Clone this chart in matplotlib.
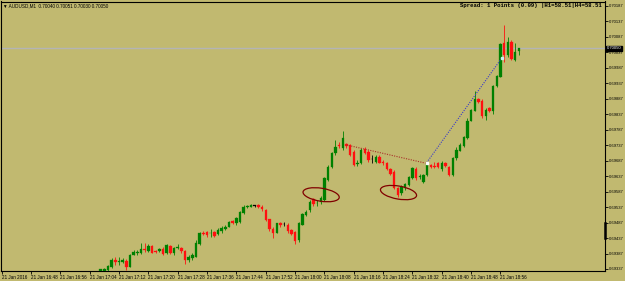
import numpy as np
import matplotlib.pyplot as plt
import matplotlib.transforms as mtransforms
from matplotlib.patches import Ellipse

# AUDUSD M1, 21 Jan 2016 -- bar index = minutes after 16:40, prices in points (1e-5)
first_bar = 27
opens = [69330, 69330, 69334, 69342, 69366, 69361, 69360, 69364, 69344, 69383,
         69390, 69388, 69401, 69394, 69411, 69394, 69394, 69403, 69388, 69411,
         69388, 69405, 69405, 69394, 69366, 69371, 69377, 69418, 69453, 69456,
         69452, 69457, 69450, 69459, 69467, 69474, 69491, 69485, 69490, 69517,
         69537, 69538, 69541, 69544, 69538, 69528, 69498, 69465, 69454, 69485,
         69482, 69479, 69463, 69457, 69431, 69480, 69512, 69528, 69562, 69549,
         69554, 69560, 69625, 69668, 69711, 69738, 69728, 69741, 69738, 69716,
         69676, 69679, 69724, 69716, 69692, 69684, 69700, 69683, 69679, 69659,
         69651, 69598, 69582, 69598, 69608, 69630, 69660, 69634, 69619, 69641,
         69673, 69670, 69679, 69659, 69679, 69668, 69641, 69695, 69719, 69734,
         69759, 69816, 69849, 69886, 69881, 69832, 69856, 69849, 69928, 69958,
         70068, 70029, 70072, 70012, 70040]
highs = [69338, 69341, 69351, 69371, 69377, 69377, 69371, 69368, 69385, 69398,
         69398, 69422, 69420, 69418, 69415, 69398, 69404, 69407, 69418, 69415,
         69409, 69418, 69409, 69398, 69382, 69390, 69431, 69457, 69459, 69461,
         69465, 69461, 69469, 69476, 69480, 69493, 69495, 69506, 69525, 69544,
         69544, 69547, 69545, 69547, 69543, 69532, 69500, 69472, 69487, 69489,
         69489, 69485, 69467, 69461, 69490, 69519, 69528, 69560, 69566, 69560,
         69573, 69634, 69673, 69715, 69754, 69747, 69783, 69744, 69741, 69722,
         69689, 69728, 69731, 69722, 69705, 69705, 69705, 69689, 69683, 69663,
         69657, 69602, 69608, 69615, 69638, 69667, 69667, 69644, 69644, 69683,
         69676, 69683, 69683, 69686, 69683, 69670, 69699, 69731, 69743, 69767,
         69824, 69854, 69913, 69890, 69887, 69857, 69861, 69932, 69964, 70067,
         70126, 70088, 70076, 70068, 70051]
lows = [69327, 69327, 69331, 69340, 69350, 69350, 69355, 69334, 69342, 69381,
        69382, 69385, 69393, 69392, 69388, 69388, 69391, 69383, 69385, 69385,
        69383, 69401, 69390, 69353, 69361, 69366, 69375, 69416, 69446, 69441,
        69441, 69441, 69447, 69454, 69463, 69472, 69482, 69480, 69487, 69515,
        69533, 69536, 69536, 69533, 69525, 69493, 69461, 69436, 69452, 69474,
        69476, 69454, 69447, 69418, 69425, 69478, 69508, 69521, 69541, 69541,
        69547, 69557, 69622, 69663, 69705, 69728, 69722, 69728, 69702, 69670,
        69670, 69676, 69709, 69683, 69680, 69680, 69680, 69673, 69657, 69641,
        69595, 69570, 69576, 69592, 69605, 69628, 69625, 69628, 69615, 69638,
        69663, 69663, 69663, 69654, 69667, 69638, 69638, 69689, 69717, 69731,
        69757, 69814, 69846, 69873, 69824, 69819, 69845, 69838, 69925, 69956,
        70007, 70021, 70012, 70009, 70030]
closes = [69336, 69338, 69347, 69366, 69361, 69364, 69366, 69342, 69382, 69392,
          69392, 69401, 69398, 69411, 69390, 69392, 69401, 69385, 69415, 69388,
          69405, 69407, 69394, 69366, 69377, 69381, 69420, 69452, 69449, 69446,
          69454, 69445, 69463, 69469, 69472, 69490, 69487, 69501, 69521, 69538,
          69540, 69543, 69542, 69536, 69530, 69495, 69465, 69454, 69485, 69478,
          69481, 69459, 69450, 69428, 69485, 69515, 69521, 69554, 69547, 69551,
          69565, 69630, 69668, 69711, 69732, 69736, 69760, 69734, 69705, 69673,
          69680, 69722, 69713, 69689, 69691, 69700, 69680, 69681, 69659, 69644,
          69598, 69576, 69603, 69611, 69635, 69662, 69631, 69638, 69641, 69679,
          69668, 69668, 69668, 69680, 69670, 69641, 69695, 69722, 69738, 69763,
          69816, 69851, 69886, 69878, 69832, 69851, 69849, 69928, 69961, 70064,
          70029, 70072, 70015, 70039, 70050]

time_ticks = [0, 8, 16, 24, 32, 40, 48, 56, 64, 72, 80, 88, 96, 104, 112, 120, 128, 136]
time_labels = ["21 Jan 2016", "21 Jan 16:48", "21 Jan 16:56", "21 Jan 17:04", "21 Jan 17:12",
               "21 Jan 17:20", "21 Jan 17:28", "21 Jan 17:36", "21 Jan 17:44", "21 Jan 17:52",
               "21 Jan 18:00", "21 Jan 18:08", "21 Jan 18:16", "21 Jan 18:24", "21 Jan 18:32",
               "21 Jan 18:40", "21 Jan 18:48", "21 Jan 18:56"]
price_ticks = [0.70187, 0.70137, 0.70087, 0.70037, 0.69987, 0.69937, 0.69887, 0.69837, 0.69787,
               0.69737, 0.69687, 0.69637, 0.69587, 0.69537, 0.69487, 0.69437, 0.69387, 0.69337]
current_price = 0.70050

# trend lines and marked zones (bar index, price)
red_line = ([94, 115.6], [0.69738, 0.69679])
blue_line = ([115.9, 136.3], [0.69681, 0.70018])
zones = [(87.1, 0.69577, -9), (108.2, 0.69584, -10)]

bg = "#c1b970"
bull, bear = "#008000", "#ff1010"
small_font = ["Liberation Sans", "DejaVu Sans"]
fs = 3.3
fs_price = 3.0

o = np.array(opens) / 1e5
h = np.array(highs) / 1e5
l = np.array(lows) / 1e5
c = np.array(closes) / 1e5
x = first_bar + np.arange(len(o))

fig = plt.figure(figsize=(6.25, 2.81), dpi=100, facecolor=bg)
ax = fig.add_axes([1.5 / 625, 10 / 281, 603.5 / 625, 269.5 / 281], facecolor=bg)

cols = np.where(c > o, bull, bear).astype(object)
cols[np.abs(c - o) <= 0.000015] = "black"
ax.vlines(x, l, h, colors=list(cols), linewidth=0.6, zorder=3)
ax.bar(x, np.maximum(np.abs(c - o), 0.00002), bottom=np.minimum(o, c), width=0.68,
       color=list(cols), edgecolor=list(cols), linewidth=0.2, zorder=4)

ax.axhline(current_price, color="#b4b4b4", linewidth=1.0, zorder=2)

ax.plot(*red_line, linestyle=(0, (1, 1.2)), color="#a8302a", linewidth=0.8, zorder=5)
ax.plot(*blue_line, linestyle=(0, (1, 1.2)), color="#3a3ac8", linewidth=0.8, zorder=5)
ax.plot(blue_line[0][0], blue_line[1][0], "s", ms=1.6, color="white", zorder=6)
ax.plot(blue_line[0][1], blue_line[1][1], "s", ms=1.6, color="#c8f0f0", zorder=6)

for bx, py, ang in zones:
    tr = fig.dpi_scale_trans + mtransforms.ScaledTranslation(bx, py, ax.transData)
    ax.add_patch(Ellipse((0, 0), 0.366, 0.13, angle=ang, transform=tr, fill=False,
                         edgecolor="#800000", linewidth=0.9, zorder=7))

ax.set_xlim(-0.05, 164.5)
ax.set_ylim(0.693305, 0.702015)

ax.yaxis.tick_right()
ax.set_yticks(price_ticks)
ax.set_yticklabels([f"{p:.5f}" for p in price_ticks])
ax.set_xticks(time_ticks)
ax.set_xticklabels(time_labels, ha="left")
ax.tick_params(axis="y", length=2.5, width=0.6, pad=0.6, labelsize=fs_price, colors="black")
ax.tick_params(axis="x", length=2, width=0.6, pad=1.2, labelsize=fs, colors="black")
for lab in ax.get_xticklabels() + ax.get_yticklabels():
    lab.set_family(small_font)
for s in ax.spines.values():
    s.set_color("black")
    s.set_linewidth(0.8)

# marker on the price scale
ax.plot([1, 1], [0.69486, 0.69437], transform=ax.get_yaxis_transform(), color="black",
        linewidth=1.8, clip_on=False, zorder=8)

ax.text(1.003, current_price, f"{current_price:.5f}", transform=ax.get_yaxis_transform(),
        ha="left", va="center", fontsize=fs_price, color="white", family=small_font,
        bbox=dict(boxstyle="square,pad=0.2", fc="black", ec="black"), zorder=9, clip_on=False)

fig.text(3 / 625, 1 - 5.5 / 281, "\u25BC AUDUSD,M1  0.70040 0.70051 0.70030 0.70050",
         ha="left", va="center", fontsize=fs, family=small_font, color="black")
fig.text(602 / 625, 1 - 6 / 281, "Spread: 1 Points (0.09) |H1=58.51|H4=58.51",
         ha="right", va="center", fontsize=4.1, fontweight="bold",
         family=["Liberation Mono", "DejaVu Sans Mono"], color="black")

plt.savefig("out.png", dpi=100, facecolor=bg)
